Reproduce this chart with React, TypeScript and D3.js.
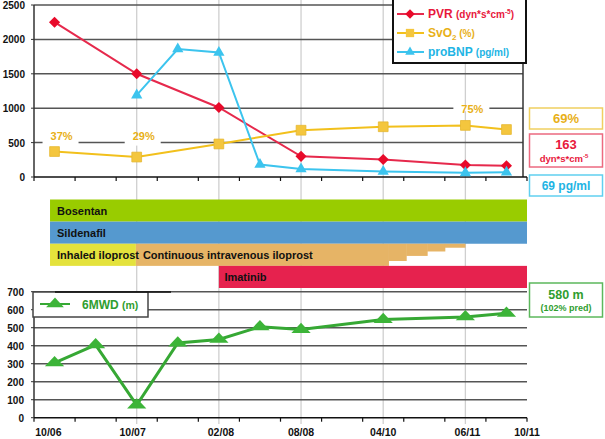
import * as d3 from "d3";

// visit dates on the shared category axis (12 half-year slots)
const months = ["10/06", "10/07", "02/08", "08/08", "04/10", "06/11", "10/11"];
const monthPos = [0.35, 2.4, 4.55, 6.5, 8.5, 10.55, 12];
const guidePos = [2.5, 4.5, 6.5, 8.5, 10.5];

const visitPos = [0.5, 2.5, 4.5, 6.5, 8.5, 10.5, 11.5];
const pvr = [2250, 1500, 1010, 300, 255, 175, 163];
const svo2 = [37, 29, 48, 68, 73, 75, 69];
const svo2Notes = [
  { idx: 0, text: "37%", line: 500 },
  { idx: 1, text: "29%", line: 500 },
  { idx: 5, text: "75%", line: 1000 },
];

const bnpPos = [2.5, 3.5, 4.5, 5.5, 6.5, 8.5, 10.5, 11.5];
const probnp = [1190, 1860, 1810, 180, 115, 80, 60, 69];

const walkPos = [0.5, 1.5, 2.5, 3.5, 4.5, 5.5, 6.5, 8.5, 10.5, 11.5];
const walk = [305, 405, 70, 415, 435, 505, 490, 545, 560, 580];

const topTicks = [0, 500, 1000, 1500, 2000, 2500];
const bottomTicks = [0, 100, 200, 300, 400, 500, 600, 700];

const treatments = [
  { name: "Bosentan", start: 0.39, end: 12, row: 0, color: "#99cc00" },
  { name: "Sildenafil", start: 0.39, end: 12, row: 1, color: "#5599cf" },
  { name: "Inhaled iloprost", start: 0.39, end: 2.48, row: 2, color: "#e4e23c" },
  { name: "Continuous intravenous iloprost", start: 2.48, end: 8.64, row: 2, color: "#e6b466" },
  { name: "Imatinib", start: 4.5, end: 12, row: 3, color: "#e6224e" },
];
// i.v. iloprost dose taper (fraction of full dose)
const taper = [
  { start: 8.64, end: 9.06, frac: 0.78 },
  { start: 9.06, end: 9.57, frac: 0.55 },
  { start: 9.57, end: 10.0, frac: 0.35 },
  { start: 10.0, end: 10.49, frac: 0.18 },
];

const RED = "#e8183c";
const GOLD = "#f2c01c";
const GOLD_TXT = "#e8b018";
const CYAN = "#3cc4ee";
const CYAN_TXT = "#22b4e4";
const GREEN = "#36a834";
const FONT = "'Liberation Sans', Arial, sans-serif";

export default function App() {
  const x = d3.scaleLinear().domain([0, 12]).range([34, 527]);
  const yTop = d3.scaleLinear().domain([0, 2500]).range([177, 5]);
  const ySv = d3.scaleLinear().domain([0, 250]).range([177, 5]);
  const yBot = d3.scaleLinear().domain([0, 700]).range([417.7, 291.7]);
  const rows = d3.scaleBand<number>().domain([0, 1, 2, 3]).range([199.5, 288]);

  const line = d3.line<[number, number]>();
  const pvrPts = visitPos.map((p, i) => [x(p), yTop(pvr[i])] as [number, number]);
  const svPts = visitPos.map((p, i) => [x(p), ySv(svo2[i])] as [number, number]);
  const bnpPts = bnpPos.map((p, i) => [x(p), yTop(probnp[i])] as [number, number]);
  const walkPts = walkPos.map((p, i) => [x(p), yBot(walk[i])] as [number, number]);

  const square = d3.symbol(d3.symbolSquare, 95)() || "";
  const diamond = d3.symbol(d3.symbolSquare, 62)() || "";
  const tri = d3.symbol(d3.symbolTriangle, 55)() || "";
  const triBig = d3.symbol(d3.symbolTriangle, 95)() || "";

  const txt = { fontFamily: FONT, fontWeight: "bold" as const };
  const axisTicks = d3.range(0, 13);

  return (
    <svg
      width={605}
      height={439}
      style={{ position: "absolute", left: 0, top: 0, background: "#fff" }}
    >
      {/* light vertical guides running through the whole figure */}
      {guidePos.map((p) => (
        <line key={p} x1={x(p)} x2={x(p)} y1={0} y2={424} stroke="#cfcfcf" strokeWidth={1.3} />
      ))}

      {/* ---------- top chart ---------- */}
      {topTicks.slice(1).map((t) => (
        <line key={t} x1={x(0)} x2={523} y1={yTop(t)} y2={yTop(t)} stroke="#555" strokeWidth={1.5} />
      ))}
      <line x1={523} x2={523} y1={yTop(2500)} y2={yTop(0)} stroke="#333" strokeWidth={1.5} />
      {svo2Notes.map((n) => (
        <rect
          key={n.text}
          x={x(visitPos[n.idx]) + 6 - 18}
          y={yTop(n.line) - 3}
          width={36}
          height={6}
          fill="#fff"
        />
      ))}
      {svo2Notes.map((n) => (
        <text
          key={n.text}
          x={x(visitPos[n.idx]) + 7}
          y={n.line === 500 ? yTop(n.line) - 3 : yTop(n.line) + 5}
          textAnchor="middle"
          fontSize={11}
          fill={GOLD_TXT}
          style={txt}
        >
          {n.text}
        </text>
      ))}
      <line x1={x(0)} x2={x(0)} y1={yTop(2500)} y2={yTop(0)} stroke="#333" strokeWidth={1.5} />
      <line x1={x(0)} x2={x(12)} y1={yTop(0)} y2={yTop(0)} stroke="#111" strokeWidth={1.5} />
      {axisTicks.map((t) => (
        <line key={t} x1={x(t)} x2={x(t)} y1={yTop(0)} y2={yTop(0) + 4} stroke="#111" strokeWidth={1.2} />
      ))}
      {topTicks.map((t) => (
        <g key={t}>
          <line x1={x(0) - 3} x2={x(0)} y1={yTop(t)} y2={yTop(t)} stroke="#333" />
          <text x={25} y={yTop(t) + 4} textAnchor="end" fontSize={10} fill="#111" style={txt}>
            {t}
          </text>
        </g>
      ))}

      <path d={line(pvrPts) || ""} fill="none" stroke="#e6294c" strokeWidth={2} />
      <path d={line(svPts) || ""} fill="none" stroke={GOLD} strokeWidth={2} />
      <path d={line(bnpPts) || ""} fill="none" stroke={CYAN} strokeWidth={2} />
      {svPts.map(([px, py], i) => (
        <path key={i} d={square} transform={`translate(${px},${py})`} fill="#f4c63e" stroke="#e6b830" strokeWidth={0.8} />
      ))}
      {pvrPts.map(([px, py], i) => (
        <path key={i} d={diamond} transform={`translate(${px},${py}) rotate(45)`} fill="#e80a2a" />
      ))}
      {bnpPts.map(([px, py], i) => (
        <path key={i} d={tri} transform={`translate(${px},${py})`} fill={CYAN} />
      ))}

      {/* legend */}
      <rect x={393} y={-1} width={133} height={64} fill="#fff" stroke="#111" strokeWidth={2} />
      {[
        { y: 14, color: "#e6294c", mark: diamond, rot: 45, fill: "#e80a2a" },
        { y: 33, color: GOLD, mark: square, rot: 0, fill: "#f4c63e" },
        { y: 52, color: CYAN, mark: tri, rot: 0, fill: CYAN },
      ].map((l, i) => (
        <g key={i}>
          <line x1={397} x2={424} y1={l.y} y2={l.y} stroke={l.color} strokeWidth={2} />
          <path d={l.mark} transform={`translate(410,${l.y}) rotate(${l.rot}) scale(0.85)`} fill={l.fill} />
        </g>
      ))}
      <text x={428} y={18} fontSize={12} fill={RED} style={txt}>
        PVR <tspan fontSize={10}>(dyn*s*cm</tspan>
        <tspan fontSize={6.5} dy={-4}>-5</tspan>
        <tspan fontSize={10} dy={4}>)</tspan>
      </text>
      <text x={428} y={37} fontSize={12} fill={GOLD_TXT} style={txt}>
        SvO<tspan fontSize={8} dy={3}>2</tspan>
        <tspan fontSize={10} dy={-3}> (%)</tspan>
      </text>
      <text x={428} y={56} fontSize={12} fill={CYAN_TXT} style={txt}>
        proBNP <tspan fontSize={10}>(pg/ml)</tspan>
      </text>

      {/* latest values */}
      <rect x={529.5} y={108} width={73} height={21} fill="#fff" stroke="#f0d060" strokeWidth={1.5} />
      <text x={566} y={123} textAnchor="middle" fontSize={13} fill={GOLD_TXT} style={txt}>
        {svo2[svo2.length - 1]}%
      </text>
      <rect x={529.5} y={134} width={73} height={33} fill="#fff" stroke="#ec6a80" strokeWidth={1.5} />
      <text x={566} y={149} textAnchor="middle" fontSize={13} fill={RED} style={txt}>
        {pvr[pvr.length - 1]}
      </text>
      <text x={564} y={162} textAnchor="middle" fontSize={9.5} fill={RED} style={txt}>
        dyn*s*cm<tspan fontSize={6} dy={-4}>-5</tspan>
      </text>
      <rect x={529.5} y={175} width={73} height={21} fill="#fff" stroke="#60d0f0" strokeWidth={1.5} />
      <text x={566} y={190} textAnchor="middle" fontSize={12} fill={CYAN_TXT} style={txt}>
        {probnp[probnp.length - 1]} pg/ml
      </text>

      {/* ---------- treatment bars ---------- */}
      {treatments.map((t) => (
        <rect
          key={t.name}
          x={x(t.start)}
          y={rows(t.row)}
          width={x(t.end) - x(t.start)}
          height={rows.bandwidth()}
          fill={t.color}
        />
      ))}
      {taper.map((s, i) => (
        <rect
          key={i}
          x={x(s.start)}
          y={rows(2)}
          width={x(s.end) - x(s.start) + 0.5}
          height={rows.bandwidth() * s.frac}
          fill="#e6b466"
        />
      ))}
      {treatments.map((t) => (
        <text
          key={t.name}
          x={x(t.start) + (t.row === 3 ? 5.5 : 7)}
          y={(rows(t.row) || 0) + 15}
          fontSize={11}
          fill="#111"
          style={txt}
        >
          {t.name}
        </text>
      ))}

      {/* ---------- bottom chart ---------- */}
      {bottomTicks.slice(1).map((t) => (
        <line key={t} x1={x(0)} x2={x(12)} y1={yBot(t)} y2={yBot(t)} stroke="#555" strokeWidth={1.5} />
      ))}
      <line x1={x(0)} x2={x(0)} y1={yBot(700)} y2={yBot(0)} stroke="#333" strokeWidth={1.5} />
      <line x1={x(0)} x2={x(12)} y1={yBot(0)} y2={yBot(0)} stroke="#111" strokeWidth={1.5} />
      {axisTicks.map((t) => (
        <line key={t} x1={x(t)} x2={x(t)} y1={yBot(0)} y2={yBot(0) + 4} stroke="#111" strokeWidth={1.2} />
      ))}
      {bottomTicks.map((t) => (
        <g key={t}>
          <line x1={x(0) - 3} x2={x(0)} y1={yBot(t)} y2={yBot(t)} stroke="#333" />
          <text x={24} y={yBot(t) + 4} textAnchor="end" fontSize={10} fill="#111" style={txt}>
            {t}
          </text>
        </g>
      ))}
      {months.map((m, i) => (
        <text key={m} x={x(monthPos[i])} y={435.5} textAnchor="middle" fontSize={10.5} fill="#111" style={txt}>
          {m}
        </text>
      ))}

      <path d={line(walkPts) || ""} fill="none" stroke={GREEN} strokeWidth={3} />
      {walkPts.map(([px, py], i) => (
        <path key={i} d={triBig} transform={`translate(${px},${py}) scale(1.3,0.8)`} fill="#3cb438" />
      ))}

      <rect x={33} y={292} width={115} height={25} fill="#fff" stroke="#444" strokeWidth={1.5} />
      <line x1={55} x2={171} y1={292} y2={292} stroke="#111" strokeWidth={1.5} />
      <line x1={40} x2={70} y1={304} y2={304} stroke={GREEN} strokeWidth={2} />
      <path d={triBig} transform="translate(55,304) scale(1.2,0.75)" fill="#3cb438" />
      <text x={82} y={309} fontSize={12} fill="#2f9e2f" style={txt}>
        6MWD <tspan fontSize={10.5}>(m)</tspan>
      </text>

      <rect x={529.5} y={283} width={73} height={34} fill="#fff" stroke="#5cb85c" strokeWidth={1.5} />
      <text x={566} y={299} textAnchor="middle" fontSize={12.5} fill="#2f9e2f" style={txt}>
        {walk[walk.length - 1]} m
      </text>
      <text x={566} y={311} textAnchor="middle" fontSize={9} fill="#2f9e2f" style={txt}>
        (102% pred)
      </text>
    </svg>
  );
}
